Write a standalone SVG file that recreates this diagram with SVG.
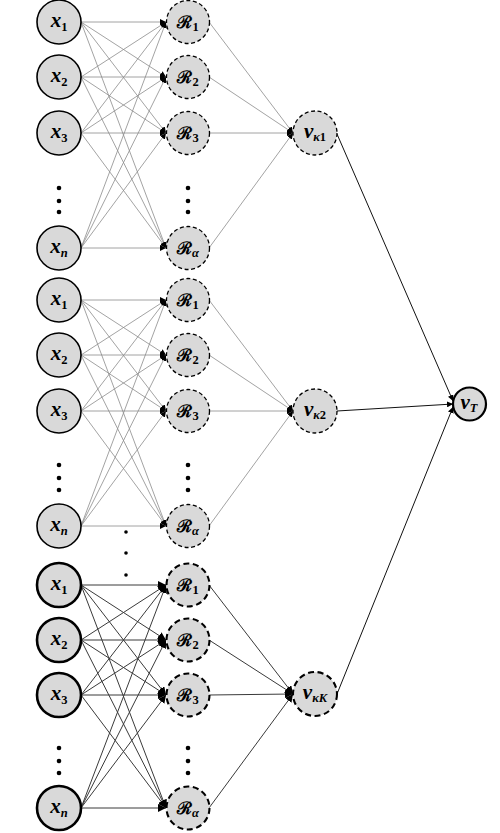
<svg xmlns="http://www.w3.org/2000/svg" width="500" height="833" viewBox="0 0 500 833">
<style>
.bg{fill:#fff}
.xn{fill:#d9d9d9;stroke:#000;stroke-width:1.6}
.xn3{fill:#d9d9d9;stroke:#000;stroke-width:2.6}
.rn{fill:#d9d9d9;stroke:#000;stroke-width:1.3;stroke-dasharray:4 2.6}
.rn3{fill:#d9d9d9;stroke:#000;stroke-width:2.1;stroke-dasharray:6 3.6}
.vt{fill:#d9d9d9;stroke:#000;stroke-width:2.2}
.c{stroke:#8c8c8c;stroke-width:0.8;fill:none;marker-end:url(#ah)}
.c3{stroke:#3a3a3a;stroke-width:1;fill:none;marker-end:url(#ah3)}
.ct{stroke:#111;stroke-width:1;fill:none;marker-end:url(#ah)}
.dot{fill:#000}
.lb{font-family:"Liberation Serif","DejaVu Serif",serif;font-weight:bold;font-style:italic;font-size:21px;fill:#000;text-anchor:middle}
.sb{font-size:12.5px}
.up{font-style:normal}
.rl{font-family:"DejaVu Serif","Liberation Serif",serif;font-weight:bold;font-style:normal;font-size:17px}
</style>
<defs>
<marker id="ah" markerUnits="userSpaceOnUse" markerWidth="7" markerHeight="6" refX="6" refY="3" orient="auto"><path d="M0,0 L6,3 L0,6 z" fill="#000"/></marker>
<marker id="ah3" markerUnits="userSpaceOnUse" markerWidth="9" markerHeight="8" refX="8" refY="4" orient="auto"><path d="M0,0 L8,4 L0,8 z" fill="#000"/></marker>
</defs>
<rect class="bg" x="0" y="0" width="500" height="833"/>
<g id="connectors">
<line class="c" x1="81" y1="22" x2="166" y2="22"/><line class="c" x1="81" y1="22" x2="166" y2="77"/><line class="c" x1="81" y1="22" x2="166" y2="133"/><line class="c" x1="81" y1="22" x2="166" y2="248"/>
<line class="c" x1="81" y1="77" x2="166" y2="22"/><line class="c" x1="81" y1="77" x2="166" y2="77"/><line class="c" x1="81" y1="77" x2="166" y2="133"/><line class="c" x1="81" y1="77" x2="166" y2="248"/>
<line class="c" x1="81" y1="133" x2="166" y2="22"/><line class="c" x1="81" y1="133" x2="166" y2="77"/><line class="c" x1="81" y1="133" x2="166" y2="133"/><line class="c" x1="81" y1="133" x2="166" y2="248"/>
<line class="c" x1="81" y1="248" x2="166" y2="22"/><line class="c" x1="81" y1="248" x2="166" y2="77"/><line class="c" x1="81" y1="248" x2="166" y2="133"/><line class="c" x1="81" y1="248" x2="166" y2="248"/>
<line class="c" x1="209" y1="22" x2="293" y2="133"/><line class="c" x1="209" y1="77" x2="293" y2="133"/><line class="c" x1="209" y1="133" x2="293" y2="133"/><line class="c" x1="209" y1="248" x2="293" y2="133"/>
<line class="c" x1="81" y1="300" x2="166" y2="300"/><line class="c" x1="81" y1="300" x2="166" y2="355"/><line class="c" x1="81" y1="300" x2="166" y2="411"/><line class="c" x1="81" y1="300" x2="166" y2="526"/>
<line class="c" x1="81" y1="355" x2="166" y2="300"/><line class="c" x1="81" y1="355" x2="166" y2="355"/><line class="c" x1="81" y1="355" x2="166" y2="411"/><line class="c" x1="81" y1="355" x2="166" y2="526"/>
<line class="c" x1="81" y1="411" x2="166" y2="300"/><line class="c" x1="81" y1="411" x2="166" y2="355"/><line class="c" x1="81" y1="411" x2="166" y2="411"/><line class="c" x1="81" y1="411" x2="166" y2="526"/>
<line class="c" x1="81" y1="526" x2="166" y2="300"/><line class="c" x1="81" y1="526" x2="166" y2="355"/><line class="c" x1="81" y1="526" x2="166" y2="411"/><line class="c" x1="81" y1="526" x2="166" y2="526"/>
<line class="c" x1="209" y1="300" x2="293" y2="411"/><line class="c" x1="209" y1="355" x2="293" y2="411"/><line class="c" x1="209" y1="411" x2="293" y2="411"/><line class="c" x1="209" y1="526" x2="293" y2="411"/>
<line class="c3" x1="81" y1="585" x2="166" y2="585"/><line class="c3" x1="81" y1="585" x2="166" y2="640"/><line class="c3" x1="81" y1="585" x2="166" y2="695"/><line class="c3" x1="81" y1="585" x2="166" y2="808"/>
<line class="c3" x1="81" y1="640" x2="166" y2="585"/><line class="c3" x1="81" y1="640" x2="166" y2="640"/><line class="c3" x1="81" y1="640" x2="166" y2="695"/><line class="c3" x1="81" y1="640" x2="166" y2="808"/>
<line class="c3" x1="81" y1="695" x2="166" y2="585"/><line class="c3" x1="81" y1="695" x2="166" y2="640"/><line class="c3" x1="81" y1="695" x2="166" y2="695"/><line class="c3" x1="81" y1="695" x2="166" y2="808"/>
<line class="c3" x1="81" y1="808" x2="166" y2="585"/><line class="c3" x1="81" y1="808" x2="166" y2="640"/><line class="c3" x1="81" y1="808" x2="166" y2="695"/><line class="c3" x1="81" y1="808" x2="166" y2="808"/>
<line class="c3" x1="209" y1="585" x2="293" y2="694"/><line class="c3" x1="209" y1="640" x2="293" y2="694"/><line class="c3" x1="209" y1="695" x2="293" y2="694"/><line class="c3" x1="209" y1="808" x2="293" y2="694"/>
<line class="ct" x1="337" y1="134" x2="453" y2="401"/>
<line class="ct" x1="337" y1="411" x2="453" y2="404"/>
<line class="ct" x1="337" y1="694" x2="453" y2="407"/>
</g>
<g id="dots">
<circle class="dot" cx="59" cy="188" r="2.3"/><circle class="dot" cx="59" cy="201" r="2.3"/><circle class="dot" cx="59" cy="212" r="2.3"/>
<circle class="dot" cx="188" cy="188" r="2.3"/><circle class="dot" cx="188" cy="201" r="2.3"/><circle class="dot" cx="188" cy="212" r="2.3"/>
<circle class="dot" cx="59" cy="465" r="2.3"/><circle class="dot" cx="59" cy="478" r="2.3"/><circle class="dot" cx="59" cy="490" r="2.3"/>
<circle class="dot" cx="188" cy="465" r="2.3"/><circle class="dot" cx="188" cy="478" r="2.3"/><circle class="dot" cx="188" cy="490" r="2.3"/>
<circle class="dot" cx="59" cy="748" r="2.3"/><circle class="dot" cx="59" cy="761" r="2.3"/><circle class="dot" cx="59" cy="773" r="2.3"/>
<circle class="dot" cx="188" cy="748" r="2.3"/><circle class="dot" cx="188" cy="761" r="2.3"/><circle class="dot" cx="188" cy="773" r="2.3"/>
<circle class="dot" cx="126" cy="532" r="1.8"/><circle class="dot" cx="126" cy="553" r="1.8"/><circle class="dot" cx="126" cy="575" r="1.8"/>
</g>
<g id="b1x1"><circle class="xn" cx="59" cy="22" r="22"/><text class="lb" x="59" y="27">x<tspan class="sb up" dy="4">1</tspan></text></g>
<g id="b1x2"><circle class="xn" cx="59" cy="77" r="22"/><text class="lb" x="59" y="82">x<tspan class="sb up" dy="4">2</tspan></text></g>
<g id="b1x3"><circle class="xn" cx="59" cy="133" r="22"/><text class="lb" x="59" y="138">x<tspan class="sb up" dy="4">3</tspan></text></g>
<g id="b1xn"><circle class="xn" cx="59" cy="248" r="22"/><text class="lb" x="59" y="253">x<tspan class="sb" dy="4">n</tspan></text></g>
<g id="b1r1"><circle class="rn" cx="188" cy="22" r="21.5"/><text class="lb" x="188" y="28"><tspan class="rl">ℛ</tspan><tspan class="sb up" dy="3">1</tspan></text></g>
<g id="b1r2"><circle class="rn" cx="188" cy="77" r="21.5"/><text class="lb" x="188" y="83"><tspan class="rl">ℛ</tspan><tspan class="sb up" dy="3">2</tspan></text></g>
<g id="b1r3"><circle class="rn" cx="188" cy="133" r="21.5"/><text class="lb" x="188" y="139"><tspan class="rl">ℛ</tspan><tspan class="sb up" dy="3">3</tspan></text></g>
<g id="b1ra"><circle class="rn" cx="188" cy="248" r="21.5"/><text class="lb" x="188" y="254"><tspan class="rl">ℛ</tspan><tspan class="sb" dy="3">α</tspan></text></g>
<g id="vk1"><circle class="rn" cx="315" cy="133" r="22"/><text class="lb" x="315" y="138">v<tspan class="sb" dy="3">κ</tspan><tspan class="sb up">1</tspan></text></g>
<g id="b2x1"><circle class="xn" cx="59" cy="300" r="22"/><text class="lb" x="59" y="305">x<tspan class="sb up" dy="4">1</tspan></text></g>
<g id="b2x2"><circle class="xn" cx="59" cy="355" r="22"/><text class="lb" x="59" y="360">x<tspan class="sb up" dy="4">2</tspan></text></g>
<g id="b2x3"><circle class="xn" cx="59" cy="411" r="22"/><text class="lb" x="59" y="416">x<tspan class="sb up" dy="4">3</tspan></text></g>
<g id="b2xn"><circle class="xn" cx="59" cy="526" r="22"/><text class="lb" x="59" y="531">x<tspan class="sb" dy="4">n</tspan></text></g>
<g id="b2r1"><circle class="rn" cx="188" cy="300" r="21.5"/><text class="lb" x="188" y="306"><tspan class="rl">ℛ</tspan><tspan class="sb up" dy="3">1</tspan></text></g>
<g id="b2r2"><circle class="rn" cx="188" cy="355" r="21.5"/><text class="lb" x="188" y="361"><tspan class="rl">ℛ</tspan><tspan class="sb up" dy="3">2</tspan></text></g>
<g id="b2r3"><circle class="rn" cx="188" cy="411" r="21.5"/><text class="lb" x="188" y="417"><tspan class="rl">ℛ</tspan><tspan class="sb up" dy="3">3</tspan></text></g>
<g id="b2ra"><circle class="rn" cx="188" cy="526" r="21.5"/><text class="lb" x="188" y="532"><tspan class="rl">ℛ</tspan><tspan class="sb" dy="3">α</tspan></text></g>
<g id="vk2"><circle class="rn" cx="315" cy="411" r="22"/><text class="lb" x="315" y="416">v<tspan class="sb" dy="3">κ</tspan><tspan class="sb up">2</tspan></text></g>
<g id="b3x1"><circle class="xn3" cx="59" cy="585" r="22"/><text class="lb" x="59" y="590">x<tspan class="sb up" dy="4">1</tspan></text></g>
<g id="b3x2"><circle class="xn3" cx="59" cy="640" r="22"/><text class="lb" x="59" y="645">x<tspan class="sb up" dy="4">2</tspan></text></g>
<g id="b3x3"><circle class="xn3" cx="59" cy="695" r="22"/><text class="lb" x="59" y="700">x<tspan class="sb up" dy="4">3</tspan></text></g>
<g id="b3xn"><circle class="xn3" cx="59" cy="808" r="22"/><text class="lb" x="59" y="813">x<tspan class="sb" dy="4">n</tspan></text></g>
<g id="b3r1"><circle class="rn3" cx="188" cy="585" r="21.5"/><text class="lb" x="188" y="591"><tspan class="rl">ℛ</tspan><tspan class="sb up" dy="3">1</tspan></text></g>
<g id="b3r2"><circle class="rn3" cx="188" cy="640" r="21.5"/><text class="lb" x="188" y="646"><tspan class="rl">ℛ</tspan><tspan class="sb up" dy="3">2</tspan></text></g>
<g id="b3r3"><circle class="rn3" cx="188" cy="695" r="21.5"/><text class="lb" x="188" y="701"><tspan class="rl">ℛ</tspan><tspan class="sb up" dy="3">3</tspan></text></g>
<g id="b3ra"><circle class="rn3" cx="188" cy="808" r="21.5"/><text class="lb" x="188" y="814"><tspan class="rl">ℛ</tspan><tspan class="sb" dy="3">α</tspan></text></g>
<g id="vkK"><circle class="rn3" cx="315" cy="694" r="22"/><text class="lb" x="315" y="699">v<tspan class="sb" dy="3">κK</tspan></text></g>
<g id="vT"><circle class="vt" cx="469.5" cy="404" r="16.5"/><text class="lb" x="469" y="409">v<tspan class="sb" dy="3">T</tspan></text></g>
</svg>
